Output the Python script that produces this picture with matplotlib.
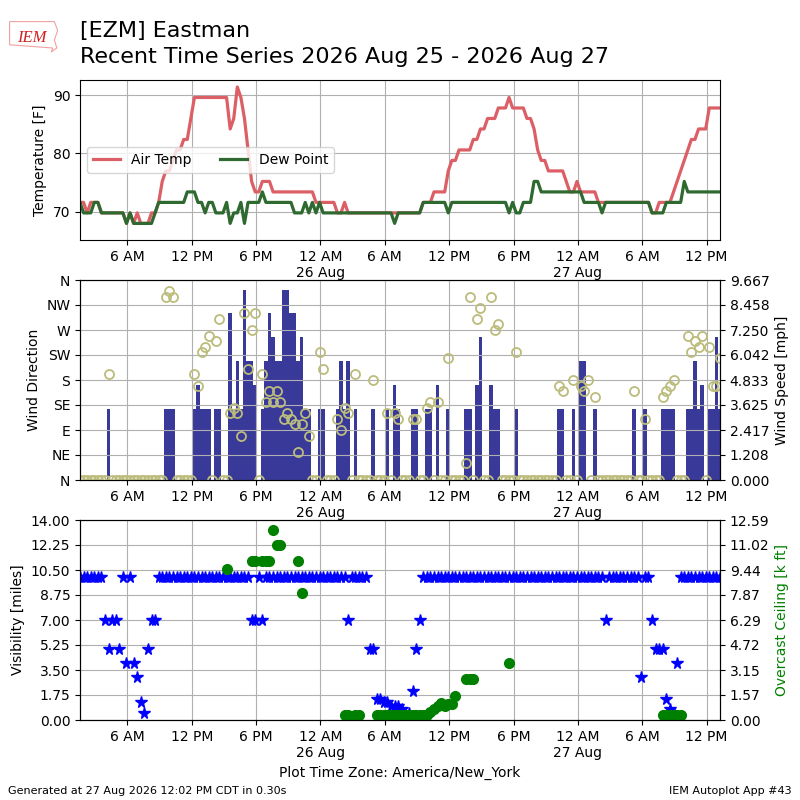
import datetime
import numpy as np
import matplotlib
matplotlib.use("Agg")
import matplotlib.pyplot as plt
import matplotlib.dates as mdates
from matplotlib.ticker import FixedLocator, FuncFormatter
from matplotlib.patches import Polygon

# obs every 20 minutes, local time America/New_York
start = datetime.datetime(2026, 8, 25, 1, 35)
nobs = 180
valid = [start + datetime.timedelta(minutes=20 * i) for i in range(nobs)]

N = None

tmpf = [
    71.6, 71.6, 69.8, 71.6, 71.6, 71.6, 69.8, 69.8, 69.8, 69.8, 69.8, 69.8, 69.8, 68, 69.8, 68, 69.8, 68,
    68, 68, 69.8, 69.8, 71.6, 75.2, 77, 77, 78.8, 80.6, 80.6, 82.4, 82.4, 86, 89.6, 89.6, 89.6, 89.6,
    89.6, 89.6, 89.6, 89.6, 89.6, 89.6, 84.2, 86, 91.4, 89.6, 86, 80.6, 75.2, 73.4, 73.4, 75.2, 75.2, 75.2,
    73.4, 73.4, 73.4, 73.4, 73.4, 73.4, 73.4, 73.4, 73.4, 73.4, 73.4, 73.4, 71.6, 71.6, 71.6, 71.6, 71.6, 71.6,
    69.8, 69.8, 71.6, 69.8, 69.8, 69.8, 69.8, 69.8, 69.8, 69.8, 69.8, 69.8, 69.8, 69.8, 69.8, 69.8, 69.8, 69.8,
    69.8, 69.8, 69.8, 69.8, 69.8, 69.8, 71.6, 71.6, 71.6, 73.4, 73.4, 73.4, 73.4, 77, 78.8, 78.8, 80.6, 80.6,
    80.6, 80.6, 82.4, 82.4, 84.2, 84.2, 86, 86, 86, 87.8, 87.8, 87.8, 89.6, 87.8, 87.8, 87.8, 87.8, 86,
    86, 84.2, 80.6, 78.8, 78.8, 77, 77, 77, 77, 77, 75.2, 73.4, 73.4, 75.2, 73.4, 73.4, 73.4, 73.4,
    73.4, 71.6, 71.6, 71.6, 71.6, 71.6, 71.6, 71.6, 71.6, 71.6, 71.6, 71.6, 71.6, 71.6, 71.6, 71.6, 69.8, 69.8,
    71.6, 71.6, 71.6, 71.6, 73.4, 75.2, 77, 78.8, 80.6, 82.4, 82.4, 84.2, 84.2, 84.2, 87.8, 87.8, 87.8, 87.8,
]
dwpf = [
    71.6, 69.8, 69.8, 69.8, 71.6, 71.6, 69.8, 69.8, 69.8, 69.8, 69.8, 69.8, 69.8, 68, 69.8, 68, 68, 68,
    68, 68, 68, 69.8, 71.6, 71.6, 71.6, 71.6, 71.6, 71.6, 71.6, 71.6, 73.4, 73.4, 73.4, 71.6, 71.6, 69.8,
    71.6, 71.6, 69.8, 69.8, 69.8, 71.6, 68, 69.8, 69.8, 71.6, 68, 71.6, 71.6, 71.6, 71.6, 73.4, 71.6, 71.6,
    71.6, 71.6, 71.6, 71.6, 71.6, 71.6, 69.8, 69.8, 69.8, 71.6, 69.8, 71.6, 69.8, 71.6, 69.8, 69.8, 69.8, 69.8,
    69.8, 69.8, 69.8, 69.8, 69.8, 69.8, 69.8, 69.8, 69.8, 69.8, 69.8, 69.8, 69.8, 69.8, 69.8, 69.8, 68, 69.8,
    69.8, 69.8, 69.8, 69.8, 69.8, 69.8, 71.6, 71.6, 71.6, 71.6, 71.6, 71.6, 71.6, 69.8, 71.6, 71.6, 71.6, 71.6,
    71.6, 71.6, 71.6, 71.6, 71.6, 71.6, 71.6, 71.6, 71.6, 71.6, 71.6, 71.6, 69.8, 71.6, 69.8, 69.8, 71.6, 71.6,
    71.6, 75.2, 75.2, 73.4, 73.4, 73.4, 73.4, 73.4, 73.4, 73.4, 73.4, 73.4, 73.4, 73.4, 73.4, 71.6, 71.6, 71.6,
    71.6, 71.6, 69.8, 71.6, 71.6, 71.6, 71.6, 71.6, 71.6, 71.6, 71.6, 71.6, 71.6, 71.6, 71.6, 71.6, 69.8, 69.8,
    69.8, 69.8, 71.6, 71.6, 71.6, 71.6, 71.6, 75.2, 73.4, 73.4, 73.4, 73.4, 73.4, 73.4, 73.4, 73.4, 73.4, 73.4,
]
# wind speed [mph]
smph = [
    0, 0, 0, 0, 0, 0, 0, 0, 3.45, 0, 0, 0, 0, 0, 0, 0, 0, 0,
    0, 0, 0, 0, 0, 0, 3.45, 3.45, 3.45, 0, 0, 0, 0, 0, 3.45, 4.6, 3.45, 3.45,
    3.45, 0, 3.45, 3.45, 0, 0, 8.05, 3.45, 5.75, 3.45, 9.2, 5.75, 5.75, 4.6, 0, 3.45, 5.75, 8.05,
    6.9, 5.75, 5.75, 9.2, 9.2, 8.05, 8.05, 5.75, 6.9, 3.45, 3.45, 0, 0, 3.45, 3.45, 0, 0, 0,
    3.45, 5.75, 3.45, 5.75, 0, 3.45, 0, 0, 0, 0, 3.45, 0, 0, 0, 3.45, 0, 4.6, 3.45,
    0, 0, 0, 3.45, 3.45, 0, 0, 3.45, 3.45, 0, 4.6, 0, 0, 3.45, 0, 0, 0, 0,
    3.45, 3.45, 0, 4.6, 6.9, 0, 0, 4.6, 3.45, 3.45, 0, 0, 0, 0, 3.45, 0, 0, 0,
    0, 0, 0, 0, 0, 0, 0, 0, 3.45, 3.45, 0, 0, 3.45, 0, 5.75, 5.75, 0, 0,
    3.45, 0, 0, 0, 0, 0, 0, 0, 0, 0, 0, 3.45, 0, 0, 3.45, 0, 0, 0,
    0, 3.45, 3.45, 3.45, 3.45, 0, 0, 0, 3.45, 3.45, 5.75, 3.45, 4.6, 0, 3.45, 3.45, 6.9, 3.45,
]
# wind direction [deg]
drct = [
    0, 0, 0, 0, 0, 0, 0, 0, 190, 0, 0, 0, 0, 0, 0, 0, 0, 0,
    0, 0, 0, 0, 0, 0, 330, 340, 330, 0, 0, 0, 0, 0, 190, 170, 230, 240,
    260, 0, 250, 290, 0, 0, 120, 130, 120, 80, 300, 200, 270, 300, 0, 190, 140, 160,
    140, 160, 140, 110, 120, 110, 100, 50, 100, 120, 80, 0, 0, 230, 200, 0, 0, 0,
    110, 90, 130, 120, 0, 190, 0, 0, 0, 0, 180, 0, 0, 0, 120, 0, 120, 110,
    0, 0, 0, 110, 110, 0, 0, 130, 140, 0, 140, 0, 0, 220, 0, 0, 0, 0,
    30, 330, 0, 290, 310, 0, 0, 330, 270, 280, 0, 0, 0, 0, 230, 0, 0, 0,
    0, 0, 0, 0, 0, 0, 0, 0, 170, 160, 0, 0, 180, 0, 170, 160, 180, 0,
    150, 0, 0, 0, 0, 0, 0, 0, 0, 0, 0, 160, 0, 0, 110, 0, 0, 0,
    0, 150, 160, 170, 180, 0, 0, 0, 260, 230, 250, 240, 260, 0, 240, 170, 170, 220,
]
# visibility [miles]
vsby = [
    10, 10, 10, 10, 10, 10, 10, 7, 5, 7, 7, 5, 10, 4, 10, 4, 3, 1.25,
    0.5, 5, 7, 7, 10, 10, 10, 10, 10, 10, 10, 10, 10, 10, 10, 10, 10, 10,
    10, 10, 10, 10, 10, 10, 10, 10, 10, 10, 10, 10, 7, 7, 10, 7, 10, 10,
    10, 10, 10, 10, 10, 10, 10, 10, 10, 10, 10, 10, 10, 10, 10, 10, 10, 10,
    10, 10, 10, 7, 10, 10, 10, 10, 10, 5, 5, 1.5, 1.5, 1.25, 1.25, 1, 1, 1,
    0.75, 0.5, 0.5, 2, 5, 7, 10, 10, 10, 10, 10, 10, 10, 10, 10, 10, 10, 10,
    10, 10, 10, 10, 10, 10, 10, 10, 10, 10, 10, 10, 10, 10, 10, 10, 10, 10,
    10, 10, 10, 10, 10, 10, 10, 10, 10, 10, 10, 10, 10, 10, 10, 10, 10, 10,
    10, 10, 10, 7, 10, 10, 10, 10, 10, 10, 10, 10, 10, 3, 10, 10, 7, 5,
    5, 5, 1.5, 0.75, 0.5, 4, 10, 10, 10, 10, 10, 10, 10, 10, 10, 10, 10, 10,
]
# overcast ceiling [k ft]
ceil = [
    N, N, N, N, N, N, N, N, N, N, N, N, N, N, N, N, N, N,
    N, N, N, N, N, N, N, N, N, N, N, N, N, N, N, N, N, N,
    N, N, N, N, N, 9.5, N, N, N, N, N, N, 10, 10, N, 10, 10, 10,
    11.99, 11, 11, N, N, N, N, 10, 8, N, N, N, N, N, N, N, N, N,
    N, N, 0.3, 0.3, N, 0.3, 0.3, N, N, N, N, 0.3, 0.3, 0.3, 0.3, 0.3, 0.3, 0.3,
    0.3, 0.3, 0.3, 0.3, 0.3, 0.3, 0.3, 0.3, 0.5, 0.7, 0.9, 1.1, 0.9, 1.0, 1.0, 1.5, N, N,
    2.6, 2.6, 2.6, N, N, N, N, N, N, N, N, N, 3.6, N, N, N, N, N,
    N, N, N, N, N, N, N, N, N, N, N, N, N, N, N, N, N, N,
    N, N, N, N, N, N, N, N, N, N, N, N, N, N, N, N, N, N,
    N, 0.3, 0.3, 0.3, 0.3, 0.3, 0.3, N, N, N, N, N, N, N, N, N, N, N,
]

dir_labels = ["N", "NE", "E", "SE", "S", "SW", "W", "NW", "N"]
xticks = [datetime.datetime(2026, 8, 25, 6) + datetime.timedelta(hours=6 * i) for i in range(10)]

ceil = np.array(ceil, dtype=float)
smax = 9.2063 * 1.05
cmax = 11.99 * 1.05


def timefmt(x, pos):
    d = mdates.num2date(x)
    if d.hour == 0:
        return "12 AM\n%d %s" % (d.day, d.strftime("%b"))
    h = d.hour % 12 or 12
    return "%d %s" % (h, "AM" if d.hour < 12 else "PM")


def setup_x(ax):
    ax.xaxis.set_major_locator(FixedLocator(mdates.date2num(xticks)))
    ax.xaxis.set_major_formatter(FuncFormatter(timefmt))
    ax.set_xlim(valid[0], valid[-1])
    ax.grid(True)


fig = plt.figure(figsize=(8, 8), dpi=100)

# logo-ish
fig.patches.append(Polygon([[0.012, 0.973], [0.068, 0.973], [0.072, 0.962], [0.068, 0.95],
                            [0.071, 0.94], [0.064, 0.935], [0.066, 0.94], [0.012, 0.944]],
                           closed=True, fill=False, ec="#f2a0a0", lw=0.8,
                           transform=fig.transFigure))
fig.text(0.04, 0.947, "IEM", color="#d02020", fontsize=12, style="italic",
         family="Liberation Serif", ha="center", va="baseline")
fig.text(0.1, 0.954, "[EZM] Eastman", fontsize=16, va="baseline")
fig.text(0.1, 0.921, "Recent Time Series 2026 Aug 25 - 2026 Aug 27", fontsize=16, va="baseline")

# temperature
ax1 = fig.add_axes([0.1, 0.7, 0.8, 0.2])
ax1.plot(valid, tmpf, color="#dd5f66", lw=2.3, label="Air Temp")
ax1.plot(valid, dwpf, color="#2e6a30", lw=2.3, label="Dew Point")
ax1.set_ylim(65.15, 92.6)
ax1.set_ylabel("Temperature [F]")
ax1.legend(loc="center left", ncol=2, bbox_to_anchor=(0.0, 0.5))
setup_x(ax1)

# wind
ax2 = fig.add_axes([0.1, 0.4, 0.8, 0.25])
ax2b = ax2.twinx()
ax2b.bar(valid, smph, width=20 / 1440.0, color="#39399a", align="center")
ax2b.set_ylim(0, smax)
ax2b.set_yticks(np.linspace(0, smax, 9))
ax2b.set_yticklabels(["%.3f" % v for v in np.linspace(0, smax, 9)])
ax2b.set_ylabel("Wind Speed [mph]")
ax2.plot(valid, drct, "o", mfc="none", mec="#bcbc7c", ms=6.5, mew=1.3)
ax2.set_zorder(ax2b.get_zorder() + 1)
ax2.patch.set_visible(False)
ax2.set_ylim(0, 360)
ax2.set_yticks(np.arange(0, 361, 45))
ax2.set_yticklabels(dir_labels)
ax2.set_ylabel("Wind Direction")
setup_x(ax2)
ax2b.set_xlim(valid[0], valid[-1])

# visibility / ceiling
ax3 = fig.add_axes([0.1, 0.1, 0.8, 0.25])
ax3.plot(valid, vsby, "*", color="b", ms=8.5)
ax3.set_ylim(0, 14)
ax3.set_yticks(np.linspace(0, 14, 9))
ax3.set_yticklabels(["%.2f" % v for v in np.linspace(0, 14, 9)])
ax3.set_ylabel("Visibility [miles]")
ax3.set_xlabel("Plot Time Zone: America/New_York")
setup_x(ax3)
ax3b = ax3.twinx()
ax3b.plot(valid, ceil, "o", color="g", ms=7)
ax3b.set_ylim(0, cmax)
ax3b.set_yticks(np.linspace(0, cmax, 9))
ax3b.set_yticklabels(["%.2f" % v for v in np.linspace(0, cmax, 9)])
ax3b.set_ylabel("Overcast Ceiling [k ft]", color="g")
ax3b.set_xlim(valid[0], valid[-1])

fig.text(0.01, 0.008, "Generated at 27 Aug 2026 12:02 PM CDT in 0.30s", fontsize=8)
fig.text(0.99, 0.008, "IEM Autoplot App #43", fontsize=8, ha="right")

fig.savefig("out.png", dpi=100)
